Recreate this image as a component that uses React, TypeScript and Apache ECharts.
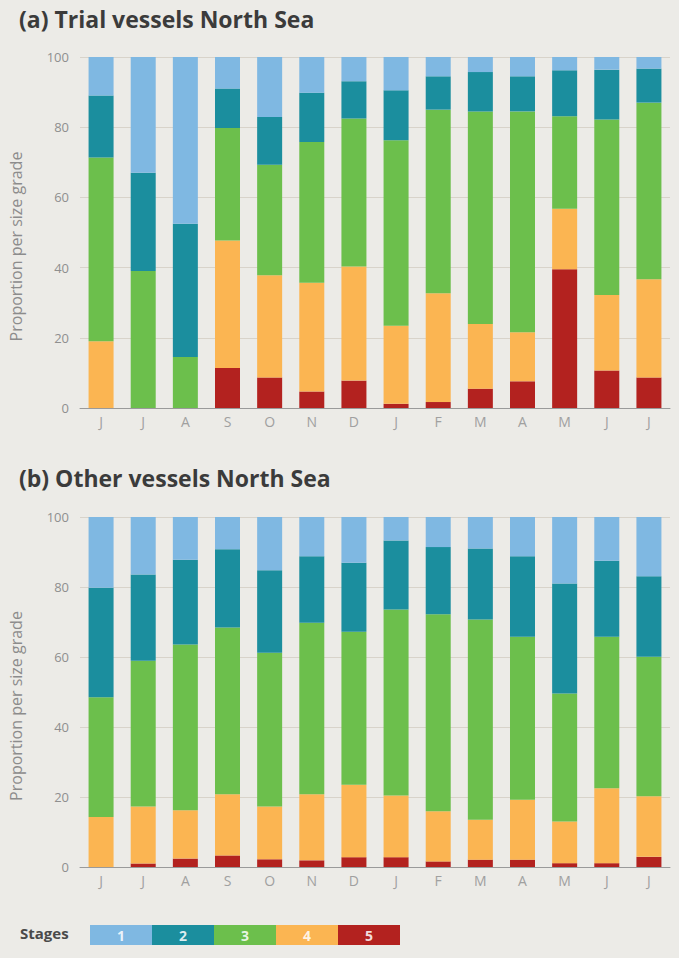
import React, { useEffect, useRef } from "react";
import * as echarts from "echarts";

const months = ["J", "J", "A", "S", "O", "N", "D", "J", "F", "M", "A", "M", "J", "J"];
const stageNames = ["1", "2", "3", "4", "5"];
const stageColors = ["#7fb8e2", "#1b8e9e", "#6cbf4c", "#fbb552", "#b3221f"];
const yTicks = [0, 20, 40, 60, 80, 100];

// (a) Trial vessels North Sea — proportion per stage (%)
const trial1 = [11, 33, 47.5, 9, 17.1, 10.2, 6.9, 9.5, 5.5, 4.3, 5.5, 3.8, 3.6, 3.3];
const trial2 = [17.6, 28, 38, 11.2, 13.6, 14, 10.6, 14.2, 9.5, 11.2, 10, 13.1, 14.2, 9.7];
const trial3 = [52.4, 39, 14.5, 32.1, 31.5, 40.1, 42.2, 52.9, 52.3, 60.6, 62.9, 26.3, 50, 50.3];
const trial4 = [19, 0, 0, 36.3, 29.1, 31, 32.5, 22.2, 31, 18.4, 14, 17.3, 21.5, 28];
const trial5 = [0, 0, 0, 11.4, 8.7, 4.7, 7.8, 1.2, 1.7, 5.5, 7.6, 39.5, 10.7, 8.7];

// (b) Other vessels North Sea — proportion per stage (%)
const other1 = [20.2, 16.4, 12.2, 9.2, 15.2, 11.2, 13.1, 6.7, 8.6, 9, 11.2, 19, 12.5, 16.9];
const other2 = [31.3, 24.7, 24.2, 22.4, 23.6, 19, 19.7, 19.7, 19.2, 20.3, 23, 31.4, 21.7, 23];
const other3 = [34.2, 41.6, 47.4, 47.6, 43.9, 49, 43.7, 53.2, 56.3, 57.2, 46.6, 36.6, 43.3, 39.9];
const other4 = [14.3, 16.3, 13.8, 17.5, 15.1, 18.9, 20.7, 17.6, 14.3, 11.4, 17.1, 11.9, 21.4, 17.3];
const other5 = [0, 1, 2.4, 3.3, 2.2, 1.9, 2.8, 2.8, 1.6, 2.1, 2.1, 1.1, 1.1, 2.9];

const titles = ["(a) Trial vessels North Sea", "(b) Other vessels North Sea"];
const yAxisName = "Proportion per size grade";
const legendTitle = "Stages";

export default function App() {
  const ref = useRef<HTMLDivElement>(null);

  useEffect(() => {
    if (!ref.current) return;
    const chart = echarts.init(ref.current, null, { renderer: "svg" });

    const trial = [trial1, trial2, trial3, trial4, trial5];
    const other = [other1, other2, other3, other4, other5];

    const makeSeries = (sets: number[][], idx: number) =>
      // stack from bottom (stage 5) to top (stage 1)
      [4, 3, 2, 1, 0].map((s) => ({
        type: "bar",
        name: stageNames[s],
        stack: "st" + idx,
        xAxisIndex: idx,
        yAxisIndex: idx,
        barWidth: 25,
        data: sets[s],
        itemStyle: { color: stageColors[s] },
      }));

    const font = "'Open Sans', sans-serif";

    const xAxis = [0, 1].map((i) => ({
      type: "category",
      gridIndex: i,
      data: months,
      axisLine: { show: true, lineStyle: { color: "#9a9a9a", width: 1 } },
      axisTick: { show: false },
      axisLabel: { color: "#a0a0a0", fontSize: 14, margin: 6, fontFamily: font },
    }));

    const yAxis = [0, 1].map((i) => ({
      type: "value",
      gridIndex: i,
      min: 0,
      max: 100,
      interval: 20,
      name: yAxisName,
      nameLocation: "middle",
      nameGap: 56,
      nameTextStyle: { color: "#8c8c8c", fontSize: 16, fontFamily: font, padding: [0, 28, 0, 0] },
      axisLine: { show: false },
      axisTick: { show: false },
      axisLabel: {
        color: "#8f8f8f",
        fontSize: 13,
        margin: 11,
        fontFamily: font,
        formatter: (v: number) => (yTicks.includes(v) ? String(v) : ""),
      },
      splitLine: { show: true, lineStyle: { color: "#d8d3ca", width: 1 } },
    }));

    const legendX0 = 90;
    const legendW = 62;
    const legendGraphics: any[] = [
      {
        type: "text",
        left: 20,
        top: 925,
        style: { text: legendTitle, fill: "#4a4a4a", fontSize: 15, fontWeight: "bold", fontFamily: font },
      },
    ];
    stageNames.forEach((n, i) => {
      legendGraphics.push({
        type: "rect",
        shape: { x: legendX0 + i * legendW, y: 925, width: legendW, height: 20 },
        style: { fill: stageColors[i] },
      });
      legendGraphics.push({
        type: "text",
        x: legendX0 + i * legendW + legendW / 2,
        y: 935,
        style: {
          text: n,
          fill: "#ffffff",
          opacity: 0.85,
          fontSize: 14,
          fontWeight: "bold",
          fontFamily: font,
          align: "center",
          verticalAlign: "middle",
        },
      });
    });

    chart.setOption({
      animation: false,
      backgroundColor: "#ecebe7",
      title: [
        {
          text: titles[0],
          left: 14,
          top: 2,
          textStyle: { color: "#3b3b3b", fontSize: 23, fontWeight: "bold", fontFamily: font },
        },
        {
          text: titles[1],
          left: 14,
          top: 461,
          textStyle: { color: "#3b3b3b", fontSize: 23, fontWeight: "bold", fontFamily: font },
        },
      ],
      grid: [
        { left: 79, right: 9, top: 57, height: 351 },
        { left: 79, right: 9, top: 517, height: 350 },
      ],
      xAxis,
      yAxis,
      series: [...makeSeries(trial, 0), ...makeSeries(other, 1)],
      graphic: legendGraphics,
    });

    return () => chart.dispose();
  }, []);

  return (
    <div
      ref={ref}
      style={{ position: "fixed", left: 0, top: 0, width: 679, height: 958 }}
    />
  );
}
